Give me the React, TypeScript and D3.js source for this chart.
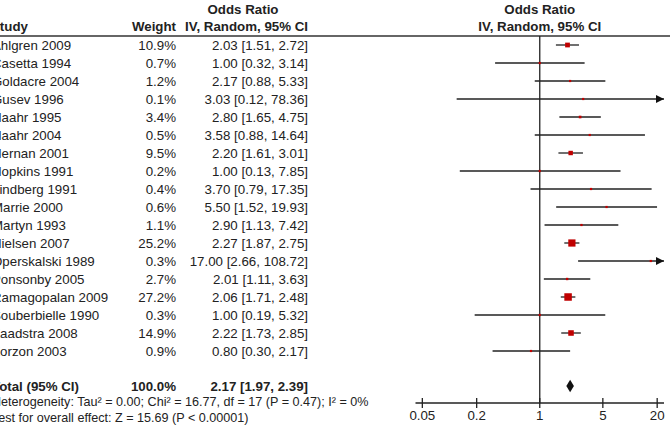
import React, { useEffect, useRef } from 'react'
import * as d3 from 'd3'

// study rows
const studies = ['Ahlgren 2009', 'Casetta 1994', 'Goldacre 2004', 'Gusev 1996', 'Haahr 1995', 'Haahr 2004', 'Hernan 2001', 'Hopkins 1991', 'Lindberg 1991', 'Marrie 2000', 'Martyn 1993', 'Nielsen 2007', 'Operskalski 1989', 'Ponsonby 2005', 'Ramagopalan 2009', 'Souberbielle 1990', 'Zaadstra 2008', 'Zorzon 2003']
const weights = [10.9, 0.7, 1.2, 0.1, 3.4, 0.5, 9.5, 0.2, 0.4, 0.6, 1.1, 25.2, 0.3, 2.7, 27.2, 0.3, 14.9, 0.9]
const oddsRatio = [2.03, 1.0, 2.17, 3.03, 2.8, 3.58, 2.2, 1.0, 3.7, 5.5, 2.9, 2.27, 17.0, 2.01, 2.06, 1.0, 2.22, 0.8]
const lower = [1.51, 0.32, 0.88, 0.12, 1.65, 0.88, 1.61, 0.13, 0.79, 1.52, 1.13, 1.87, 2.66, 1.11, 1.71, 0.19, 1.73, 0.3]
const upper = [2.72, 3.14, 5.33, 78.36, 4.75, 14.64, 3.01, 7.85, 17.35, 19.93, 7.42, 2.75, 108.72, 3.63, 2.48, 5.32, 2.85, 2.17]

const total = { or: 2.17, lo: 1.97, hi: 2.39, weight: 100.0 }
const tickValues = [0.05, 0.2, 1, 5, 20]
const heterogeneity = 'Heterogeneity: Tau² = 0.00; Chi² = 16.77, df = 17 (P = 0.47); I² = 0%'
const overallEffect = 'Test for overall effect: Z = 15.69 (P < 0.00001)'

const W = 670
const H = 434
const FONT = 'Liberation Sans, Arial, sans-serif'

export default function App() {
  const ref = useRef<SVGSVGElement>(null)

  useEffect(() => {
    const svg = d3.select(ref.current)
    svg.selectAll('*').remove()

    const x = d3.scaleLog().domain([0.042, 23.8]).range([415.5, 664])
    const y = d3.scaleLinear().domain([0, studies.length - 1]).range([45, 351])
    const size = d3.scaleSqrt().domain([0, 27.2]).range([0, 7.5])
    const fmt = d3.format('.2f')
    const ciText = (o: number, l: number, h: number) => `${fmt(o)} [${fmt(l)}, ${fmt(h)}]`
    const [xmin, xmax] = x.range()
    const totalY = 386
    const axisY = 403
    const nameX = -8

    const g = svg.append('g').attr('font-family', FONT).attr('font-size', 13.3).attr('fill', '#222')

    // headers
    g.append('text').attr('x', 243).attr('y', 9).attr('dy', '0.35em').attr('text-anchor', 'middle')
      .attr('font-weight', 'bold').text('Odds Ratio')
    g.append('text').attr('x', 308).attr('y', 26.5).attr('dy', '0.35em').attr('text-anchor', 'end')
      .attr('font-weight', 'bold').text('IV, Random, 95% CI')
    g.append('text').attr('x', nameX - 1).attr('y', 26.5).attr('dy', '0.35em').attr('font-weight', 'bold').text('Study')
    g.append('text').attr('x', 176).attr('y', 26.5).attr('dy', '0.35em').attr('text-anchor', 'end')
      .attr('font-weight', 'bold').text('Weight')
    g.append('text').attr('x', x(1)).attr('y', 9).attr('dy', '0.35em').attr('text-anchor', 'middle')
      .attr('font-weight', 'bold').text('Odds Ratio')
    g.append('text').attr('x', x(1)).attr('y', 26.5).attr('dy', '0.35em').attr('text-anchor', 'middle')
      .attr('font-weight', 'bold').text('IV, Random, 95% CI')

    svg.append('line').attr('x1', 0).attr('x2', W).attr('y1', 36).attr('y2', 36)
      .attr('stroke', '#333').attr('stroke-width', 1.3)

    // study text columns
    const rows = g.selectAll('g.row').data(studies).join('g').attr('class', 'row')
      .attr('transform', (_, i) => `translate(0,${y(i)})`)
    rows.append('text').attr('x', nameX).attr('dy', '0.35em').text(d => d)
    rows.append('text').attr('x', 176).attr('dy', '0.35em').attr('text-anchor', 'end')
      .text((_, i) => `${weights[i].toFixed(1)}%`)
    rows.append('text').attr('x', 308).attr('dy', '0.35em').attr('text-anchor', 'end')
      .text((_, i) => ciText(oddsRatio[i], lower[i], upper[i]))

    // total row + footnotes
    const tot = g.append('g').attr('transform', `translate(0,${totalY})`).attr('font-weight', 'bold')
    tot.append('text').attr('x', nameX).attr('dy', '0.35em').text('Total (95% CI)')
    tot.append('text').attr('x', 176).attr('dy', '0.35em').attr('text-anchor', 'end').text(`${total.weight.toFixed(1)}%`)
    tot.append('text').attr('x', 308).attr('dy', '0.35em').attr('text-anchor', 'end').text(ciText(total.or, total.lo, total.hi))
    g.append('text').attr('x', nameX).attr('y', 402).attr('dy', '0.35em').attr('font-size', 12.6).text(heterogeneity)
    g.append('text').attr('x', nameX).attr('y', 418).attr('dy', '0.35em').attr('font-size', 12.6).text(overallEffect)

    // null line
    svg.append('line').attr('x1', x(1)).attr('x2', x(1)).attr('y1', 36).attr('y2', axisY)
      .attr('stroke', '#222').attr('stroke-width', 1.3)

    // confidence intervals
    const plot = svg.append('g')
    studies.forEach((_, i) => {
      const cy = y(i)
      const x0 = Math.max(x(lower[i]), xmin)
      const x1 = Math.min(x(upper[i]), xmax)
      plot.append('line').attr('x1', x0).attr('x2', x1).attr('y1', cy).attr('y2', cy)
        .attr('stroke', '#222').attr('stroke-width', 1.3)
      if (x(upper[i]) > xmax) {
        plot.append('path').attr('d', `M${xmax},${cy} L${xmax - 8},${cy - 4} L${xmax - 8},${cy + 4} Z`).attr('fill', '#111')
      }
      if (x(lower[i]) < xmin) {
        plot.append('path').attr('d', `M${xmin},${cy} L${xmin + 8},${cy - 4} L${xmin + 8},${cy + 4} Z`).attr('fill', '#111')
      }
      const s = Math.max(size(weights[i]), 2.2)
      plot.append('rect').attr('x', x(oddsRatio[i]) - s / 2).attr('y', cy - s / 2)
        .attr('width', s).attr('height', s).attr('fill', '#c00000')
    })

    // pooled diamond
    plot.append('path')
      .attr('d', `M${x(total.lo)},${totalY} L${x(total.or)},${totalY - 6.3} L${x(total.hi)},${totalY} L${x(total.or)},${totalY + 6.3} Z`)
      .attr('fill', '#111')

    // axis
    const axis = svg.append('g')
    axis.append('line').attr('x1', xmin).attr('x2', xmax).attr('y1', axisY).attr('y2', axisY)
      .attr('stroke', '#222').attr('stroke-width', 1.3)
    axis.selectAll('line.tick').data(tickValues).join('line').attr('class', 'tick')
      .attr('x1', d => x(d)).attr('x2', d => x(d)).attr('y1', axisY - 5).attr('y2', axisY + 5)
      .attr('stroke', '#222').attr('stroke-width', 1.3)
    axis.selectAll('text').data(tickValues).join('text')
      .attr('x', d => x(d)).attr('y', 415).attr('dy', '0.35em').attr('text-anchor', 'middle')
      .attr('font-family', FONT).attr('font-size', 13.3).attr('fill', '#222')
      .text(d => String(d))
  }, [])

  return (
    <svg ref={ref} width={W} height={H} style={{ position: 'absolute', left: 0, top: 0, background: '#fff' }} />
  )
}
